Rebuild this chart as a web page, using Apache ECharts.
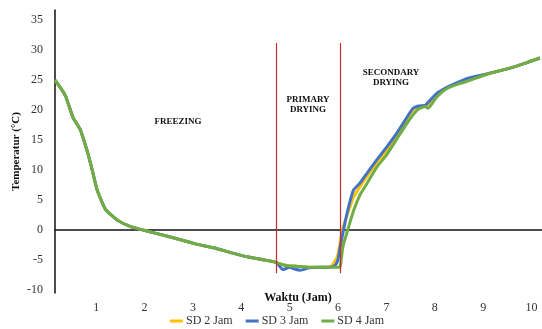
<!DOCTYPE html>
<html>
<head>
    <meta charset="utf-8">
    <title>Suhu</title>
    <script src="https://cdn.jsdelivr.net/npm/echarts@6/dist/echarts.min.js"></script>
</head>
<body style="margin:0">
    <div id="main" style="width: 542px;height:329px;"></div>
    <script type="text/javascript">
    // waktu (jam) dan suhu (°C) tiap seri
    var waktu = [0.15,0.36,0.52,0.67,0.81,0.92,1.02,1.19,1.43,1.70,1.97,2.26,2.65,3.05,3.45,3.80,4.15,4.48,4.72,4.86,
                 5.00,5.10,5.22,5.40,5.65,5.85,5.95,6.00,6.04,6.10,6.20,6.32,6.45,6.60,6.80,7.00,7.20,7.40,7.55,7.66,
                 7.80,7.86,8.04,8.25,8.46,8.67,9.05,9.55,9.86,10.17];
    var sd2 = [25.0,22.5,18.8,16.8,13.3,10.0,6.7,3.5,1.7,0.6,0.0,-0.6,-1.4,-2.3,-3.0,-3.8,-4.5,-5.0,-5.4,-5.8,
               -6.0,-6.0,-6.1,-6.2,-6.2,-6.1,-5.0,-4.0,-2.2,0.3,2.8,5.5,7.2,9.0,11.3,13.3,15.7,18.2,20.0,20.6,
               20.7,21.0,22.6,23.7,24.5,25.1,26.0,27.0,27.8,28.7];
    var sd3 = [25.0,22.5,18.8,16.8,13.3,10.0,6.7,3.5,1.7,0.6,0.0,-0.6,-1.4,-2.3,-3.0,-3.8,-4.5,-5.0,-5.4,-6.6,
               -6.2,-6.5,-6.7,-6.3,-6.2,-6.2,-5.8,-4.9,-3.0,-0.5,3.3,6.7,7.8,9.5,11.7,13.8,16.0,18.5,20.3,20.7,
               20.8,21.3,22.8,23.8,24.6,25.3,26.0,27.0,27.8,28.7];
    var sd4 = [25.0,22.5,18.8,16.8,13.3,10.0,6.7,3.5,1.7,0.6,0.0,-0.6,-1.4,-2.3,-3.0,-3.8,-4.5,-5.0,-5.4,-5.8,
               -6.0,-6.0,-6.1,-6.2,-6.2,-6.2,-6.2,-6.2,-6.2,-2.8,0.0,3.2,5.8,7.8,10.5,12.5,15.0,17.5,19.2,20.2,
               20.6,20.3,22.2,23.6,24.3,24.8,25.9,27.0,27.8,28.7];
    var namaSeri = ['SD 2 Jam', 'SD 3 Jam', 'SD 4 Jam'];
    var warna = ['#FFC000', '#4472C4', '#70AD47'];
    var labelX = [1,2,3,4,5,6,7,8,9,10];
    var labelY = [-10,-5,0,5,10,15,20,25,30,35];
    // batas fase (jam) dan rentang garis batas
    var batasFase = [4.73, 6.04];
    var rentangBatas = [-7.2, 31.2];

    var font = '"Liberation Serif", "Times New Roman", serif';
    var myChart = echarts.init(document.getElementById('main'));

    function pasangkan(arr) {
        var out = [];
        for (var i = 0; i < waktu.length; i++) {
            out.push([waktu[i], arr[i]]);
        }
        return out;
    }

    var garisBatas = batasFase.map(function (x) {
        return [{coord: [x, rentangBatas[0]]}, {coord: [x, rentangBatas[1]]}];
    });

    var seriesData = [sd2, sd3, sd4];
    var series = seriesData.map(function (arr, i) {
        var s = {
            name: namaSeri[i],
            type: 'line',
            data: pasangkan(arr),
            symbol: 'none',
            smooth: 0.15,
            lineStyle: {width: 3, color: warna[i]},
            itemStyle: {color: warna[i]},
            z: 2 + i
        };
        if (i === 2) {
            s.markLine = {
                silent: true,
                symbol: 'none',
                label: {show: false},
                lineStyle: {color: '#C8282A', width: 1.2, type: 'solid'},
                data: garisBatas
            };
        }
        return s;
    });

    myChart.setOption({
        animation: false,
        textStyle: {fontFamily: font},
        grid: {left: 55, right: 0, top: 10, bottom: 36, outerBoundsMode: 'none', containLabel: false},
        legend: {
            data: namaSeri,
            left: 170,
            top: 315,
            icon: 'rect',
            itemWidth: 13,
            itemHeight: 3,
            itemGap: 13,
            padding: 0,
            textStyle: {fontFamily: font, fontSize: 12, color: '#333', padding: [0, 0, 0, -2]}
        },
        xAxis: {
            type: 'value',
            min: 0.15,
            max: 10.215,
            axisLine: {onZero: true, lineStyle: {color: '#111', width: 1.5}},
            axisTick: {show: false},
            splitLine: {show: false},
            axisLabel: {customValues: labelX, fontFamily: font, fontSize: 12, color: '#333', margin: 9}
        },
        yAxis: {
            type: 'value',
            min: -10.5,
            max: 36.7,
            name: 'Temperatur (°C)',
            nameLocation: 'middle',
            nameGap: 33,
            nameMoveOverlap: false,
            nameTextStyle: {fontFamily: font, fontWeight: 'bold', fontSize: 11, color: '#111'},
            axisLine: {show: true, lineStyle: {color: '#111', width: 1.5}},
            axisTick: {show: false},
            splitLine: {show: false},
            axisLabel: {customValues: labelY, fontFamily: font, fontSize: 12, color: '#333', margin: 12}
        },
        graphic: [
            {type: 'text', x: 298, y: 298, style: {text: 'Waktu (Jam)', align: 'center', verticalAlign: 'middle',
                fontFamily: font, fontWeight: 'bold', fontSize: 12, fill: '#111'}},
            {type: 'text', x: 178, y: 122, style: {text: 'FREEZING', align: 'center', verticalAlign: 'middle',
                fontFamily: font, fontWeight: 'bold', fontSize: 9, fill: '#111'}},
            {type: 'text', x: 308, y: 104.5, style: {text: 'PRIMARY\nDRYING', align: 'center', verticalAlign: 'middle',
                fontFamily: font, fontWeight: 'bold', fontSize: 9, lineHeight: 10, fill: '#111'}},
            {type: 'text', x: 391, y: 78, style: {text: 'SECONDARY\nDRYING', align: 'center', verticalAlign: 'middle',
                fontFamily: font, fontWeight: 'bold', fontSize: 9, lineHeight: 10, fill: '#111'}}
        ],
        series: series
    });
    </script>
</body>
</html>
